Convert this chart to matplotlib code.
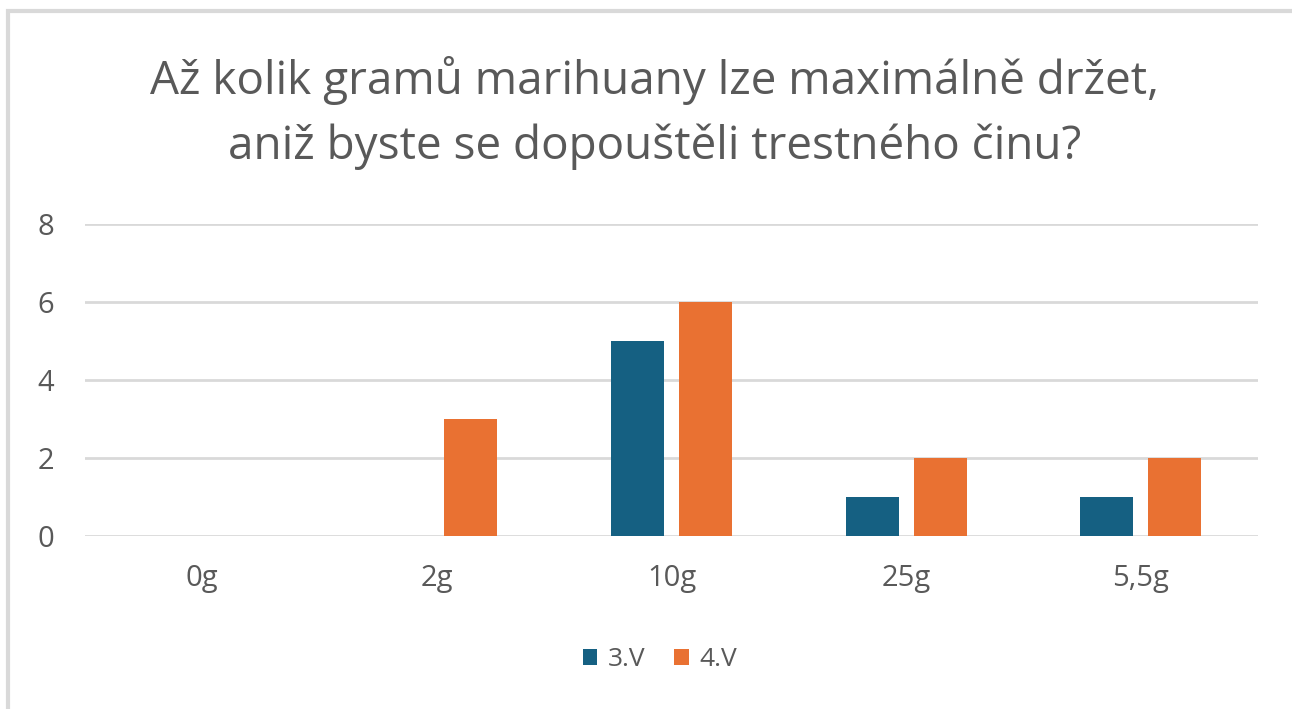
import numpy as np
import matplotlib.pyplot as plt
from matplotlib.patches import Rectangle

categories = ["0g", "2g", "10g", "25g", "5,5g"]
series_names = ["3.V", "4.V"]
values_3v = [0, 0, 5, 1, 1]
values_4v = [0, 3, 6, 2, 2]
y_ticks = [0, 2, 4, 6, 8]
title = "Až kolik gramů marihuany lze maximálně držet,\naniž byste se dopouštěli trestného činu?"

BLUE = "#156082"
ORANGE = "#E97132"
TEXT = "#595959"
GRID = "#D9D9D9"

plt.rcParams["font.family"] = ["Open Sans", "DejaVu Sans"]

fig = plt.figure(figsize=(12.92, 7.09), dpi=100)
ax = fig.add_axes([85 / 1292, 1 - 536 / 709, (1258 - 85) / 1292, (536 - 224) / 709])

x = np.arange(len(categories))
width = 0.226
offset = 0.145
b1 = ax.bar(x - offset, values_3v, width, color=BLUE, label=series_names[0], zorder=3)
b2 = ax.bar(x + offset, values_4v, width, color=ORANGE, label=series_names[1], zorder=3)

ax.set_xlim(-0.5, len(categories) - 0.5)
ax.set_ylim(0, 8)
ax.set_yticks(y_ticks)
ax.yaxis.grid(True, color=GRID, linewidth=2)
ax.set_axisbelow(True)
for s in ax.spines.values():
    s.set_visible(False)
ax.tick_params(axis="both", length=0, labelsize=21, labelcolor=TEXT)
ax.tick_params(axis="y", pad=22)
ax.tick_params(axis="x", pad=20)
ax.set_xticks(x)
ax.set_xticklabels(categories)

fig.text(655 / 1292, 1 - 113 / 709, title, ha="center", va="center",
         fontsize=33, color=TEXT, linespacing=1.5)

fig.legend(handles=[b1, b2], loc="center", bbox_to_anchor=(660 / 1292, 1 - 660 / 709),
           ncol=2, frameon=False, fontsize=19, labelcolor=TEXT,
           handlelength=0.55, handleheight=0.55, handletextpad=0.4, columnspacing=1.1)

# chart area border
fig.patches.append(Rectangle((8 / 1292, -0.01), 1.02, 1 - 11 / 709 + 0.01,
                             transform=fig.transFigure, fill=False,
                             edgecolor=GRID, linewidth=3))

fig.savefig("out.png", dpi=100)
